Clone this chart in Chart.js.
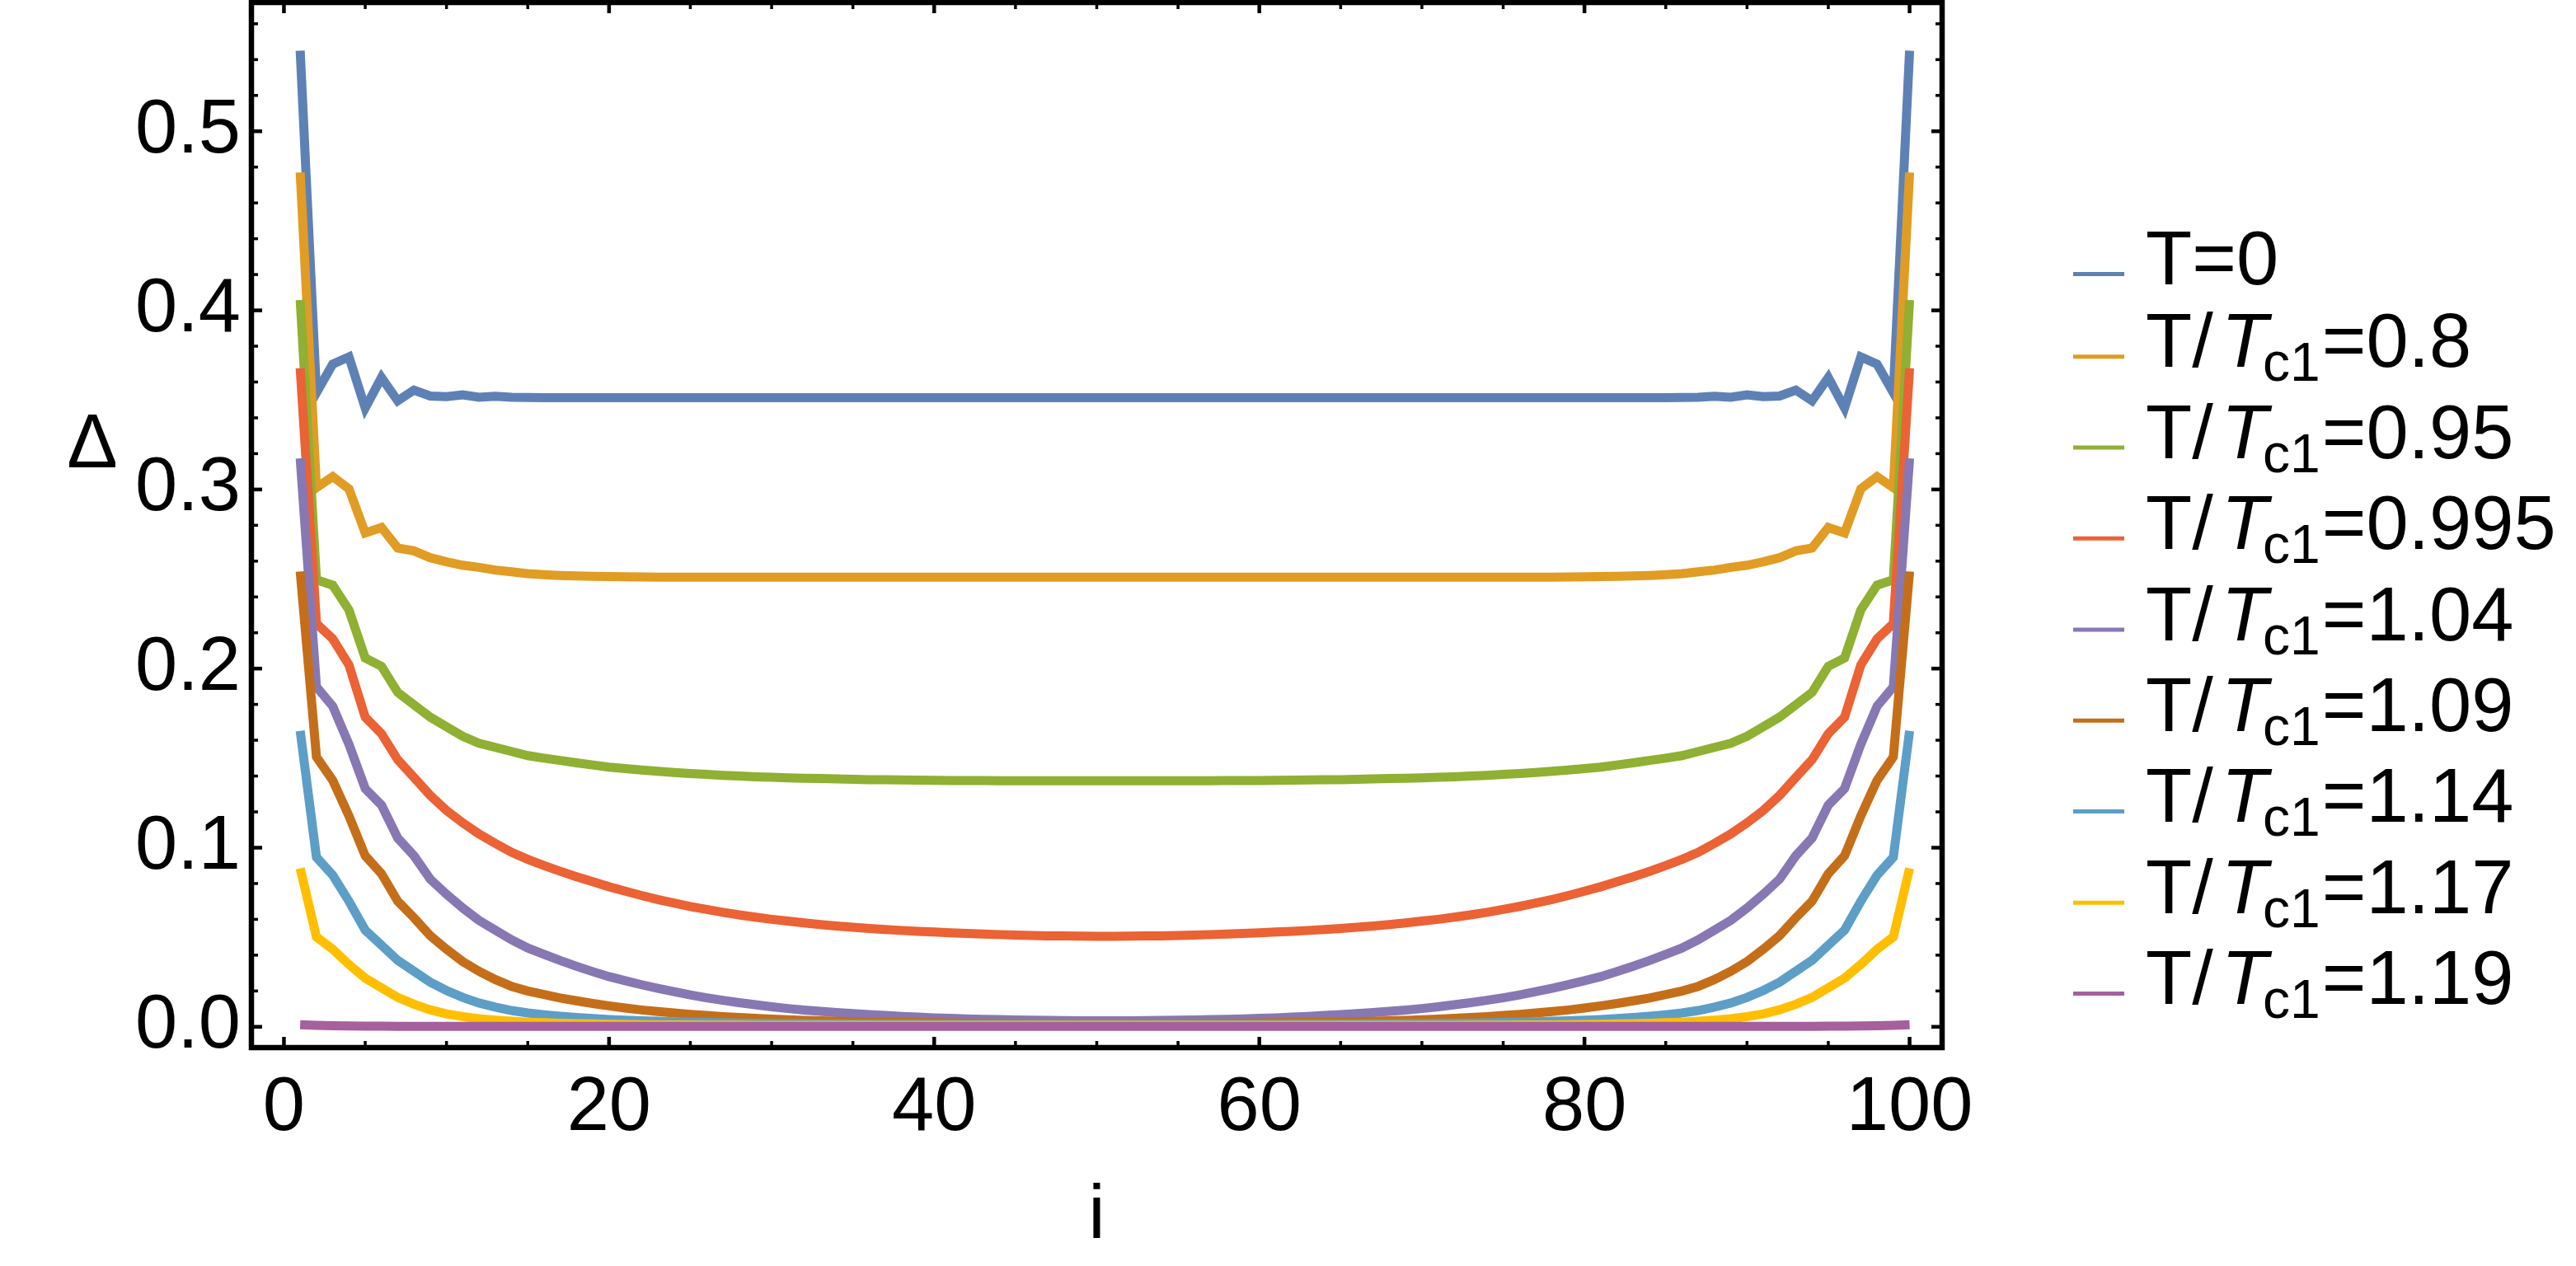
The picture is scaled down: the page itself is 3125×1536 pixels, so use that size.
<!DOCTYPE html>
<html><head><meta charset="utf-8">
<script src="https://cdn.jsdelivr.net/npm/chart.js@4/dist/chart.umd.min.js"></script>
<style>html,body{margin:0;padding:0;background:#fff}canvas{display:block}</style>
</head><body>
<canvas id="c" width="3125" height="1536"></canvas>
<script>
const sites = [1,2,3,4,5,6,7,8,9,10,11,12,13,14,15,16,17,18,19,20,21,22,23,24,25,26,27,28,29,30,31,32,33,34,35,36,37,38,39,40,41,42,43,44,45,46,47,48,49,50,51,52,53,54,55,56,57,58,59,60,61,62,63,64,65,66,67,68,69,70,71,72,73,74,75,76,77,78,79,80,81,82,83,84,85,86,87,88,89,90,91,92,93,94,95,96,97,98,99,100];

const seriesLabels = ["T=0","T/Tc1=0.8","T/Tc1=0.95","T/Tc1=0.995","T/Tc1=1.04","T/Tc1=1.09","T/Tc1=1.14","T/Tc1=1.17","T/Tc1=1.19"];
const seriesColors = ["#5E81B5","#E19C24","#8FB032","#EB6235","#8778B3","#C56E1A","#5D9EC7","#FFBF00","#A5609D"];

const d_T0 = [
0.545,0.354,0.370,0.374,0.3455,0.3625,0.3495,0.3555,0.3522,0.3518,
0.3528,0.3515,0.3520,0.3515,0.3514,0.3513,0.3513,0.3513,0.3513,0.3513,
0.3513,0.3513,0.3513,0.3513,0.3513,0.3513,0.3513,0.3513,0.3513,0.3513,
0.3513,0.3513,0.3513,0.3513,0.3513,0.3513,0.3513,0.3513,0.3513,0.3513,
0.3513,0.3513,0.3513,0.3513,0.3513,0.3513,0.3513,0.3513,0.3513,0.3513,
0.3513,0.3513,0.3513,0.3513,0.3513,0.3513,0.3513,0.3513,0.3513,0.3513,
0.3513,0.3513,0.3513,0.3513,0.3513,0.3513,0.3513,0.3513,0.3513,0.3513,
0.3513,0.3513,0.3513,0.3513,0.3513,0.3513,0.3513,0.3513,0.3513,0.3513,
0.3513,0.3513,0.3513,0.3513,0.3513,0.3514,0.3515,0.3520,0.3515,0.3528,
0.3518,0.3522,0.3555,0.3495,0.3625,0.3455,0.374,0.370,0.354,0.545];

const d_080 = [
0.477,0.301,0.3072,0.3003,0.2757,0.2788,0.2673,0.2657,0.2619,0.2596,
0.2577,0.2565,0.2550,0.2540,0.2530,0.2524,0.2520,0.2517,0.2515,0.2514,
0.2513,0.2512,0.2511,0.2510,0.2510,0.2510,0.2510,0.2510,0.2510,0.2510,
0.2510,0.2510,0.2510,0.2510,0.2510,0.2510,0.2510,0.2510,0.2510,0.2510,
0.2510,0.2510,0.2510,0.2510,0.2510,0.2510,0.2510,0.2510,0.2510,0.2510,
0.2510,0.2510,0.2510,0.2510,0.2510,0.2510,0.2510,0.2510,0.2510,0.2510,
0.2510,0.2510,0.2510,0.2510,0.2510,0.2510,0.2510,0.2510,0.2510,0.2510,
0.2510,0.2510,0.2510,0.2510,0.2510,0.2510,0.2510,0.2511,0.2512,0.2513,
0.2514,0.2515,0.2517,0.2520,0.2524,0.2530,0.2540,0.2550,0.2565,0.2577,
0.2596,0.2619,0.2657,0.2673,0.2788,0.2757,0.3003,0.3072,0.301,0.477];

const d_095 = [
0.4058,0.2496,0.2466,0.2327,0.2059,0.2013,0.1867,0.1798,0.1729,0.1675,
0.1622,0.1583,0.1560,0.1537,0.1514,0.1500,0.1487,0.1474,0.1462,0.1450,
0.1442,0.1434,0.1427,0.1420,0.1414,0.1409,0.1404,0.1400,0.1396,0.1393,
0.1390,0.1388,0.1386,0.1384,0.1382,0.1380,0.1379,0.1378,0.1377,0.1376,
0.1375,0.1375,0.1375,0.1374,0.1374,0.1374,0.1374,0.1374,0.1374,0.1374,
0.1374,0.1374,0.1374,0.1374,0.1374,0.1374,0.1374,0.1375,0.1375,0.1375,
0.1376,0.1377,0.1378,0.1379,0.1380,0.1382,0.1384,0.1386,0.1388,0.1390,
0.1393,0.1396,0.1400,0.1404,0.1409,0.1414,0.1420,0.1427,0.1434,0.1442,
0.1450,0.1462,0.1474,0.1487,0.1500,0.1514,0.1537,0.1560,0.1583,0.1622,
0.1675,0.1729,0.1798,0.1867,0.2013,0.2059,0.2327,0.2466,0.2496,0.4058];

const d_0995 = [
0.3677,0.2251,0.2166,0.2020,0.1729,0.1637,0.1491,0.1392,0.1292,0.1208,
0.1139,0.1077,0.1024,0.0974,0.0935,0.0900,0.0868,0.0838,0.0810,0.0782,
0.0757,0.0733,0.0711,0.0691,0.0672,0.0655,0.0639,0.0625,0.0612,0.0600,
0.0590,0.0580,0.0571,0.0563,0.0556,0.0549,0.0543,0.0538,0.0533,0.0529,
0.0525,0.0521,0.0518,0.0515,0.0512,0.0510,0.0508,0.0507,0.0506,0.0505,
0.0505,0.0506,0.0507,0.0508,0.0510,0.0512,0.0515,0.0518,0.0521,0.0525,
0.0529,0.0533,0.0538,0.0543,0.0549,0.0556,0.0563,0.0571,0.0580,0.0590,
0.0600,0.0612,0.0625,0.0639,0.0655,0.0672,0.0691,0.0711,0.0733,0.0757,
0.0782,0.0810,0.0838,0.0868,0.0900,0.0935,0.0974,0.1024,0.1077,0.1139,
0.1208,0.1292,0.1392,0.1491,0.1637,0.1729,0.2020,0.2166,0.2251,0.3677];

const d_104 = [
0.3174,0.1898,0.1790,0.1577,0.1330,0.1238,0.1054,0.0955,0.0824,0.0740,
0.0663,0.0594,0.0540,0.0486,0.0440,0.0405,0.0370,0.0338,0.0308,0.0280,
0.0257,0.0235,0.0215,0.0196,0.0178,0.0162,0.0148,0.0135,0.0123,0.0112,
0.0102,0.0093,0.0086,0.0080,0.0074,0.0068,0.0063,0.0058,0.0054,0.0050,
0.0047,0.0044,0.0042,0.0040,0.0038,0.0037,0.0036,0.0035,0.0034,0.0034,
0.0034,0.0034,0.0035,0.0036,0.0037,0.0038,0.0040,0.0042,0.0044,0.0047,
0.0050,0.0054,0.0058,0.0063,0.0068,0.0074,0.0080,0.0086,0.0093,0.0102,
0.0112,0.0123,0.0135,0.0148,0.0162,0.0178,0.0196,0.0215,0.0235,0.0257,
0.0280,0.0308,0.0338,0.0370,0.0405,0.0440,0.0486,0.0540,0.0594,0.0663,
0.0740,0.0824,0.0955,0.1054,0.1238,0.1330,0.1577,0.1790,0.1898,0.3174];

const d_109 = [
0.2542,0.1507,0.1376,0.1177,0.0955,0.0855,0.0701,0.0609,0.0509,0.0433,
0.0364,0.0310,0.0264,0.0226,0.0200,0.0180,0.0161,0.0145,0.0130,0.0117,
0.0105,0.0094,0.0085,0.0077,0.0069,0.0063,0.0057,0.0052,0.0047,0.0043,
0.0039,0.0036,0.0033,0.0031,0.0029,0.0027,0.0025,0.0024,0.0023,0.0022,
0.0021,0.0020,0.0020,0.0019,0.0019,0.0018,0.0018,0.0018,0.0018,0.0018,
0.0018,0.0018,0.0018,0.0018,0.0018,0.0019,0.0019,0.0020,0.0020,0.0021,
0.0022,0.0023,0.0024,0.0025,0.0027,0.0029,0.0031,0.0033,0.0036,0.0039,
0.0043,0.0047,0.0052,0.0057,0.0063,0.0069,0.0077,0.0085,0.0094,0.0105,
0.0117,0.0130,0.0145,0.0161,0.0180,0.0200,0.0226,0.0264,0.0310,0.0364,
0.0433,0.0509,0.0609,0.0701,0.0855,0.0955,0.1177,0.1376,0.1507,0.2542];

const d_114 = [
0.1652,0.0947,0.0847,0.0701,0.0540,0.0456,0.0371,0.0310,0.0249,0.0203,
0.0164,0.0133,0.0110,0.0091,0.0077,0.0067,0.0059,0.0052,0.0046,0.0041,
0.0037,0.0034,0.0031,0.0028,0.0026,0.0024,0.0022,0.0021,0.0020,0.0019,
0.0018,0.0017,0.0016,0.0016,0.0015,0.0015,0.0014,0.0014,0.0014,0.0013,
0.0013,0.0013,0.0013,0.0013,0.0013,0.0013,0.0013,0.0013,0.0013,0.0013,
0.0013,0.0013,0.0013,0.0013,0.0013,0.0013,0.0013,0.0013,0.0013,0.0013,
0.0013,0.0014,0.0014,0.0014,0.0015,0.0015,0.0016,0.0016,0.0017,0.0018,
0.0019,0.0020,0.0021,0.0022,0.0024,0.0026,0.0028,0.0031,0.0034,0.0037,
0.0041,0.0046,0.0052,0.0059,0.0067,0.0077,0.0091,0.0110,0.0133,0.0164,
0.0203,0.0249,0.0310,0.0371,0.0456,0.0540,0.0701,0.0847,0.0947,0.1652];

const d_117 = [
0.0885,0.0502,0.0433,0.0348,0.0272,0.0218,0.0164,0.0126,0.0095,0.0072,
0.0057,0.0045,0.0037,0.0031,0.0026,0.0023,0.0020,0.0018,0.0016,0.0014,
0.0013,0.0012,0.0011,0.0010,0.0010,0.0009,0.0009,0.0009,0.0008,0.0008,
0.0008,0.0008,0.0008,0.0008,0.0008,0.0008,0.0008,0.0008,0.0008,0.0008,
0.0008,0.0008,0.0008,0.0008,0.0008,0.0008,0.0008,0.0008,0.0008,0.0008,
0.0008,0.0008,0.0008,0.0008,0.0008,0.0008,0.0008,0.0008,0.0008,0.0008,
0.0008,0.0008,0.0008,0.0008,0.0008,0.0008,0.0008,0.0008,0.0008,0.0008,
0.0008,0.0008,0.0009,0.0009,0.0009,0.0010,0.0010,0.0011,0.0012,0.0013,
0.0014,0.0016,0.0018,0.0020,0.0023,0.0026,0.0031,0.0037,0.0045,0.0057,
0.0072,0.0095,0.0126,0.0164,0.0218,0.0272,0.0348,0.0433,0.0502,0.0885];

const d_119 = [
0.0012,0.0008,0.0006,0.0005,0.0004,0.0004,0.0003,0.0003,0.0003,0.0003,
0.0003,0.0003,0.0003,0.0003,0.0003,0.0003,0.0003,0.0003,0.0003,0.0003,
0.0003,0.0003,0.0003,0.0003,0.0003,0.0003,0.0003,0.0003,0.0003,0.0003,
0.0003,0.0003,0.0003,0.0003,0.0003,0.0003,0.0003,0.0003,0.0003,0.0003,
0.0003,0.0003,0.0003,0.0003,0.0003,0.0003,0.0003,0.0003,0.0003,0.0003,
0.0003,0.0003,0.0003,0.0003,0.0003,0.0003,0.0003,0.0003,0.0003,0.0003,
0.0003,0.0003,0.0003,0.0003,0.0003,0.0003,0.0003,0.0003,0.0003,0.0003,
0.0003,0.0003,0.0003,0.0003,0.0003,0.0003,0.0003,0.0003,0.0003,0.0003,
0.0003,0.0003,0.0003,0.0003,0.0003,0.0003,0.0003,0.0003,0.0003,0.0003,
0.0003,0.0003,0.0003,0.0003,0.0004,0.0004,0.0005,0.0006,0.0008,0.0012];

const seriesValues = [d_T0, d_080, d_095, d_0995, d_104, d_109, d_114, d_117, d_119];

const xTickValues = [0,20,40,60,80,100];
const yTickValues = [0,0.1,0.2,0.3,0.4,0.5];
const xMinorTicks = [5,10,15,25,30,35,45,50,55,65,70,75,85,90,95];
const yMinorTicks = [0.02,0.04,0.06,0.08,0.12,0.14,0.16,0.18,0.22,0.24,0.26,0.28,0.32,0.34,0.36,0.38,0.42,0.44,0.46,0.48,0.52,0.54,0.56];
const xAxisTitle = "i";
const yAxisTitle = "Δ";

const FAM = '"Liberation Sans", Arial, Helvetica, sans-serif';
const FS = 92;

function drawLegendLabel(ctx, label, x, base) {
  ctx.font = FS + 'px ' + FAM;
  const m = label.match(/^T\/Tc1(=.*)$/);
  if (!m) { ctx.fillText(label, x, base); return; }
  ctx.fillText('T/', x, base);
  x += ctx.measureText('T/').width + 10;
  ctx.font = 'italic ' + FS + 'px ' + FAM;
  ctx.fillText('T', x, base);
  x += ctx.measureText('T').width - 6;
  ctx.font = '66px ' + FAM;
  ctx.fillText('c1', x, base + 17);
  x += ctx.measureText('c1').width + 2;
  ctx.font = FS + 'px ' + FAM;
  ctx.fillText(m[1], x, base);
}

const framePlugin = {
  id: 'frame',
  afterDraw(chart) {
    const ctx = chart.ctx, a = chart.chartArea;
    const xs = chart.scales.x, ys = chart.scales.y;
    ctx.save();
    ctx.strokeStyle = '#000';
    ctx.lineWidth = 6.5;
    ctx.lineCap = 'square';
    ctx.strokeRect(a.left, a.top, a.right - a.left, a.bottom - a.top);
    ctx.lineCap = 'butt';
    const tick = (x1,y1,x2,y2,w) => { ctx.lineWidth = w; ctx.beginPath(); ctx.moveTo(x1,y1); ctx.lineTo(x2,y2); ctx.stroke(); };
    xTickValues.forEach(v => { const p = xs.getPixelForValue(v);
      tick(p, a.bottom, p, a.bottom - 13, 4.5); tick(p, a.top, p, a.top + 13, 4.5); });
    xMinorTicks.forEach(v => { const p = xs.getPixelForValue(v);
      tick(p, a.bottom, p, a.bottom - 8, 3.5); tick(p, a.top, p, a.top + 8, 3.5); });
    yTickValues.forEach(v => { const p = ys.getPixelForValue(v);
      tick(a.left, p, a.left + 13, p, 4.5); tick(a.right, p, a.right - 13, p, 4.5); });
    yMinorTicks.forEach(v => { const p = ys.getPixelForValue(v);
      tick(a.left, p, a.left + 8, p, 3.5); tick(a.right, p, a.right - 8, p, 3.5); });

    ctx.fillStyle = '#000';
    ctx.font = FS + 'px ' + FAM;
    ctx.textAlign = 'center';
    ctx.textBaseline = 'alphabetic';
    ctx.fillText(xAxisTitle, (a.left + a.right) / 2, 1502);
    ctx.fillText(yAxisTitle, 112, 567);

    ctx.textAlign = 'left';
    const rowY = [332.6, 432.8, 543.0, 653.2, 764.0, 874.2, 984.5, 1095.3, 1205.5];
    seriesLabels.forEach((lab, k) => {
      ctx.strokeStyle = seriesColors[k];
      ctx.lineWidth = 5;
      ctx.beginPath(); ctx.moveTo(2515, rowY[k]); ctx.lineTo(2577, rowY[k]); ctx.stroke();
      ctx.fillStyle = '#000';
      drawLegendLabel(ctx, lab, 2603, rowY[k] + 12.5);
    });
    ctx.restore();
  }
};

new Chart(document.getElementById('c').getContext('2d'), {
  type: 'line',
  data: {
    datasets: seriesValues.map((vals, k) => ({
      label: seriesLabels[k],
      data: sites.map((s, j) => ({ x: s, y: vals[j] })),
      borderColor: seriesColors[k],
      backgroundColor: seriesColors[k],
      borderWidth: 11,
      pointRadius: 0,
      fill: false,
      tension: 0,
      order: seriesValues.length - k
    }))
  },
  options: {
    responsive: false,
    animation: false,
    devicePixelRatio: 1,
    layout: { padding: { top: 3, right: 769, left: 0, bottom: 0 } },
    plugins: { legend: { display: false }, tooltip: { enabled: false } },
    scales: {
      x: {
        type: 'linear', min: -2, max: 102,
        afterBuildTicks: s => { s.ticks = xTickValues.map(v => ({ value: v })); },
        afterFit: s => { s.height = 265; s.paddingLeft = 0; s.paddingRight = 0; },
        ticks: { font: { family: FAM, size: FS }, color: '#000', padding: 19, maxRotation: 0, autoSkip: false, callback: v => String(v) },
        grid: { display: false, drawTicks: false },
        border: { display: false }
      },
      y: {
        type: 'linear', min: -0.0116, max: 0.5719,
        afterBuildTicks: s => { s.ticks = yTickValues.map(v => ({ value: v })); },
        afterFit: s => { s.width = 305; s.paddingTop = 0; s.paddingBottom = 0; },
        ticks: { font: { family: FAM, size: FS }, color: '#000', padding: 13, autoSkip: false, callback: v => Number(v).toFixed(1) },
        grid: { display: false, drawTicks: false },
        border: { display: false }
      }
    }
  },
  plugins: [framePlugin]
});
</script>
</body></html>
